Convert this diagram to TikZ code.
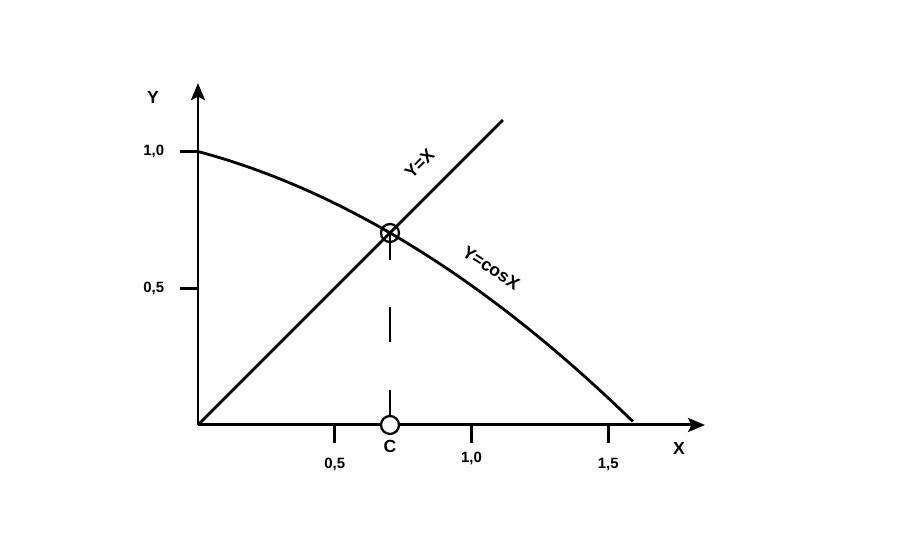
\documentclass[tikz,border=0pt]{standalone}
\usepackage{fontspec}
\setmainfont{Liberation Sans}
\usetikzlibrary{arrows.meta}
\begin{document}
\begin{tikzpicture}[x=5.47cm,y=5.47cm,
    axis/.style={line width=1.7pt,-{Stealth[length=3.4mm,width=2.8mm,inset=0.7mm]}},
    curve/.style={line width=1.6pt},
    tick/.style={line width=1.6pt},
    lbl/.style={font=\bfseries\fontsize{10}{10}\selectfont,inner sep=0pt},
    num/.style={font=\bfseries\fontsize{8.5}{8.5}\selectfont,inner sep=0pt},
    ring/.style={circle,draw,line width=1.3pt,minimum size=0.36cm,inner sep=0pt}]
    \useasboundingbox (-0.724,-0.435) rectangle (2.640,1.554);

    % Assi
    \coordinate (O) at (0,0);
    \coordinate (xend) at (1.854,0);
    \coordinate (yend) at (0,1.25);
    \draw[axis] (O) -- (xend);
    \draw[axis] (O) -- (yend);
    \node[lbl] (xlab) at (1.759,-0.084) {X};
    \node[lbl] (ylab) at (-0.165,1.199) {Y};

    % Tacche
    \foreach \i/\v/\h/\t in {1/0.5/-0.146/{0,5},2/1.0/-0.124/{1,0},3/1.5/-0.143/{1,5}}
        \draw[tick] (\v,0) -- (\v,-0.066) node[num] (xt\i) at (\v,\h) {\t};
    \foreach \i/\v/\t in {1/0.5/{0,5},2/1.0/{1,0}}
        \draw[tick] (0,\v) -- (-0.066,\v) node[num] (yt\i) at (-0.162,\v) {\t};

    % Curve
    \draw[curve] plot[domain=0:1.59,samples=60] (\x,{1-0.268*\x-0.222*\x*\x});
    \coordinate (yxend) at (1.115,1.115);
    \draw[curve] (O) -- (yxend);
    \node[lbl,rotate=45] (yx) at (0.810,0.956) {Y=X};
    \node[lbl,rotate=-33] (ycos) at (1.072,0.574) {Y=cosX};

    % Soluzione
    \coordinate (p) at (0.702,0.702);
    \coordinate (c) at (0.702,0);
    \draw[line width=1.1pt,dash pattern=on 0.7cm off 0.95cm] (c) -- (p);
    \node[ring] (P) at (p) {};
    \node[ring,fill=white] (C) at (c) {};
    \node[lbl] (clab) at (0.702,-0.077) {C};
\end{tikzpicture}
\end{document}
